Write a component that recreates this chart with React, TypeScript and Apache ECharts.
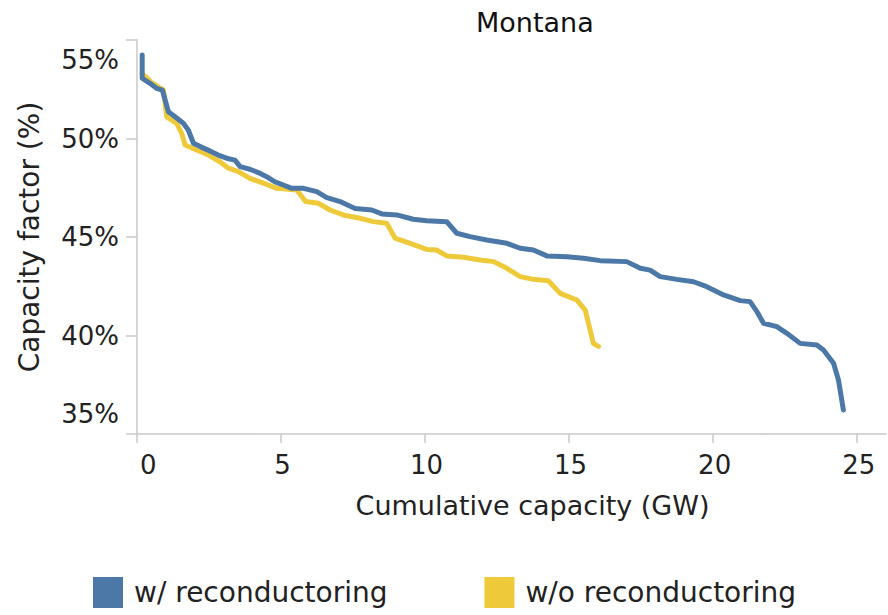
import React, { useEffect, useRef } from "react";
import * as echarts from "echarts";

const titleText = "Montana";
const xAxisName = "Cumulative capacity (GW)";
const yAxisName = "Capacity factor (%)";
const seriesNames = ["w/ reconductoring", "w/o reconductoring"];
const xTicks = [0, 5, 10, 15, 20, 25];

// w/ reconductoring
const withCap = [
  0.18, 0.18, 0.45, 0.68, 0.88, 1.09, 1.32, 1.61, 1.78, 1.96, 2.25, 2.53, 2.82, 3.11, 3.4, 3.58,
  3.92, 4.21, 4.5, 4.79, 5.08, 5.37, 5.78, 6.24, 6.59, 7.05, 7.57, 8.15, 8.5, 9.02, 9.59, 10.06,
  10.75, 11.1, 11.56, 12.14, 12.84, 13.3, 13.76, 14.23, 14.92, 15.5, 16.08, 17.0, 17.47, 17.81,
  18.16, 18.74, 19.32, 19.78, 20.36, 20.94, 21.28, 21.52, 21.75, 22.21, 22.56, 23.02, 23.6, 23.83,
  24.18, 24.35, 24.52,
];
const withCF = [
  54.24, 53.06, 52.8, 52.55, 52.46, 51.36, 51.1, 50.77, 50.43, 49.76, 49.55, 49.37, 49.16, 49.0,
  48.9, 48.57, 48.44, 48.27, 48.06, 47.8, 47.64, 47.47, 47.47, 47.3, 47.0, 46.8, 46.45, 46.37,
  46.17, 46.12, 45.9, 45.83, 45.78, 45.19, 45.02, 44.85, 44.68, 44.43, 44.34, 44.04, 44.0, 43.92,
  43.8, 43.75, 43.41, 43.32, 42.99, 42.85, 42.73, 42.48, 42.06, 41.77, 41.72, 41.21, 40.62, 40.45,
  40.11, 39.6, 39.52, 39.26, 38.59, 37.74, 36.22,
];

// w/o reconductoring
const withoutCap = [
  0.18, 0.5, 0.92, 1.03, 1.38, 1.55, 1.67, 2.07, 2.48, 2.88, 3.17, 3.52, 3.92, 4.39, 4.85, 5.55,
  5.85, 6.3, 6.7, 7.16, 7.74, 8.2, 8.67, 8.96, 9.48, 10.06, 10.4, 10.75, 11.33, 11.91, 12.38,
  12.84, 13.3, 13.76, 14.28, 14.69, 15.27, 15.56, 15.73, 15.84, 16.02,
];
const withoutCF = [
  53.3, 52.85, 52.46, 51.1, 50.77, 50.26, 49.67, 49.42, 49.16, 48.82, 48.49, 48.32, 47.98, 47.73,
  47.47, 47.39, 46.8, 46.71, 46.37, 46.12, 45.95, 45.78, 45.7, 44.94, 44.68, 44.37, 44.34, 44.04,
  43.97, 43.83, 43.75, 43.41, 42.99, 42.85, 42.78, 42.14, 41.8, 41.29, 40.28, 39.6, 39.45,
];

const colors = ["#4c78a8", "#eeca3b"];
const FONT = "DejaVu Sans";

export default function App() {
  const ref = useRef<HTMLDivElement>(null);
  useEffect(() => {
    document.body.style.margin = "0";
    if (!ref.current) return;
    const chart = echarts.init(ref.current, null, { renderer: "svg" });
    const axisColor = "#c8c8c8";
    chart.setOption({
      animation: false,
      textStyle: { fontFamily: FONT },
      title: {
        text: titleText,
        left: 471,
        top: 4,
        textStyle: { fontFamily: FONT, fontSize: 27, fontWeight: "normal", color: "#111" },
      },
      grid: { left: 137, right: 2, top: 40, bottom: 181, containLabel: false, outerBoundsMode: "none" },
      legend: {
        left: 93,
        top: 577,
        padding: 0,
        icon: "rect",
        itemWidth: 30,
        itemHeight: 31,
        itemGap: 97,
        data: seriesNames,
        textStyle: { fontFamily: FONT, fontSize: 28, color: "#222", padding: [0, 0, 0, 6] },
      },
      xAxis: {
        type: "value",
        min: 0,
        max: 26,
        interval: 5,
        name: xAxisName,
        nameLocation: "middle",
        nameGap: 58,
        nameTextStyle: { fontFamily: FONT, fontSize: 27, color: "#222", padding: [0, 0, 0, 42] },
        axisLine: { show: true, onZero: false, lineStyle: { color: axisColor, width: 1.5 } },
        axisTick: { show: true, length: 9, customValues: xTicks, lineStyle: { color: axisColor, width: 1.5 } },
        axisLabel: {
          customValues: xTicks,
          fontSize: 26,
          margin: 18,
          color: "#222",
          alignMinLabel: "left",
          padding: [0, 0, 0, 3],
        },
        splitLine: { show: false },
      },
      yAxis: {
        type: "value",
        min: 35,
        max: 55,
        interval: 5,
        name: yAxisName,
        nameLocation: "middle",
        nameGap: 94,
        nameTextStyle: { fontFamily: FONT, fontSize: 28, color: "#222" },
        axisLine: { show: true, lineStyle: { color: axisColor, width: 1.5 } },
        axisTick: { show: true, length: 11, lineStyle: { color: axisColor, width: 1.5 } },
        axisLabel: {
          fontSize: 26,
          margin: 18,
          lineHeight: 40,
          color: "#222",
          formatter: "{value}%",
          verticalAlignMinLabel: "bottom",
          verticalAlignMaxLabel: "top",
        },
        splitLine: { show: false },
      },
      series: [
        {
          type: "line",
          name: seriesNames[1],
          data: withoutCap.map((x, i) => [x, withoutCF[i]]),
          showSymbol: false,
          lineStyle: { width: 5, color: colors[1], cap: "round", join: "round" },
          itemStyle: { color: colors[1] },
          z: 2,
        },
        {
          type: "line",
          name: seriesNames[0],
          data: withCap.map((x, i) => [x, withCF[i]]),
          showSymbol: false,
          lineStyle: { width: 5, color: colors[0], cap: "round", join: "round" },
          itemStyle: { color: colors[0] },
          z: 3,
        },
      ],
    });
    return () => chart.dispose();
  }, []);
  return <div ref={ref} style={{ width: 888, height: 615 }} />;
}
